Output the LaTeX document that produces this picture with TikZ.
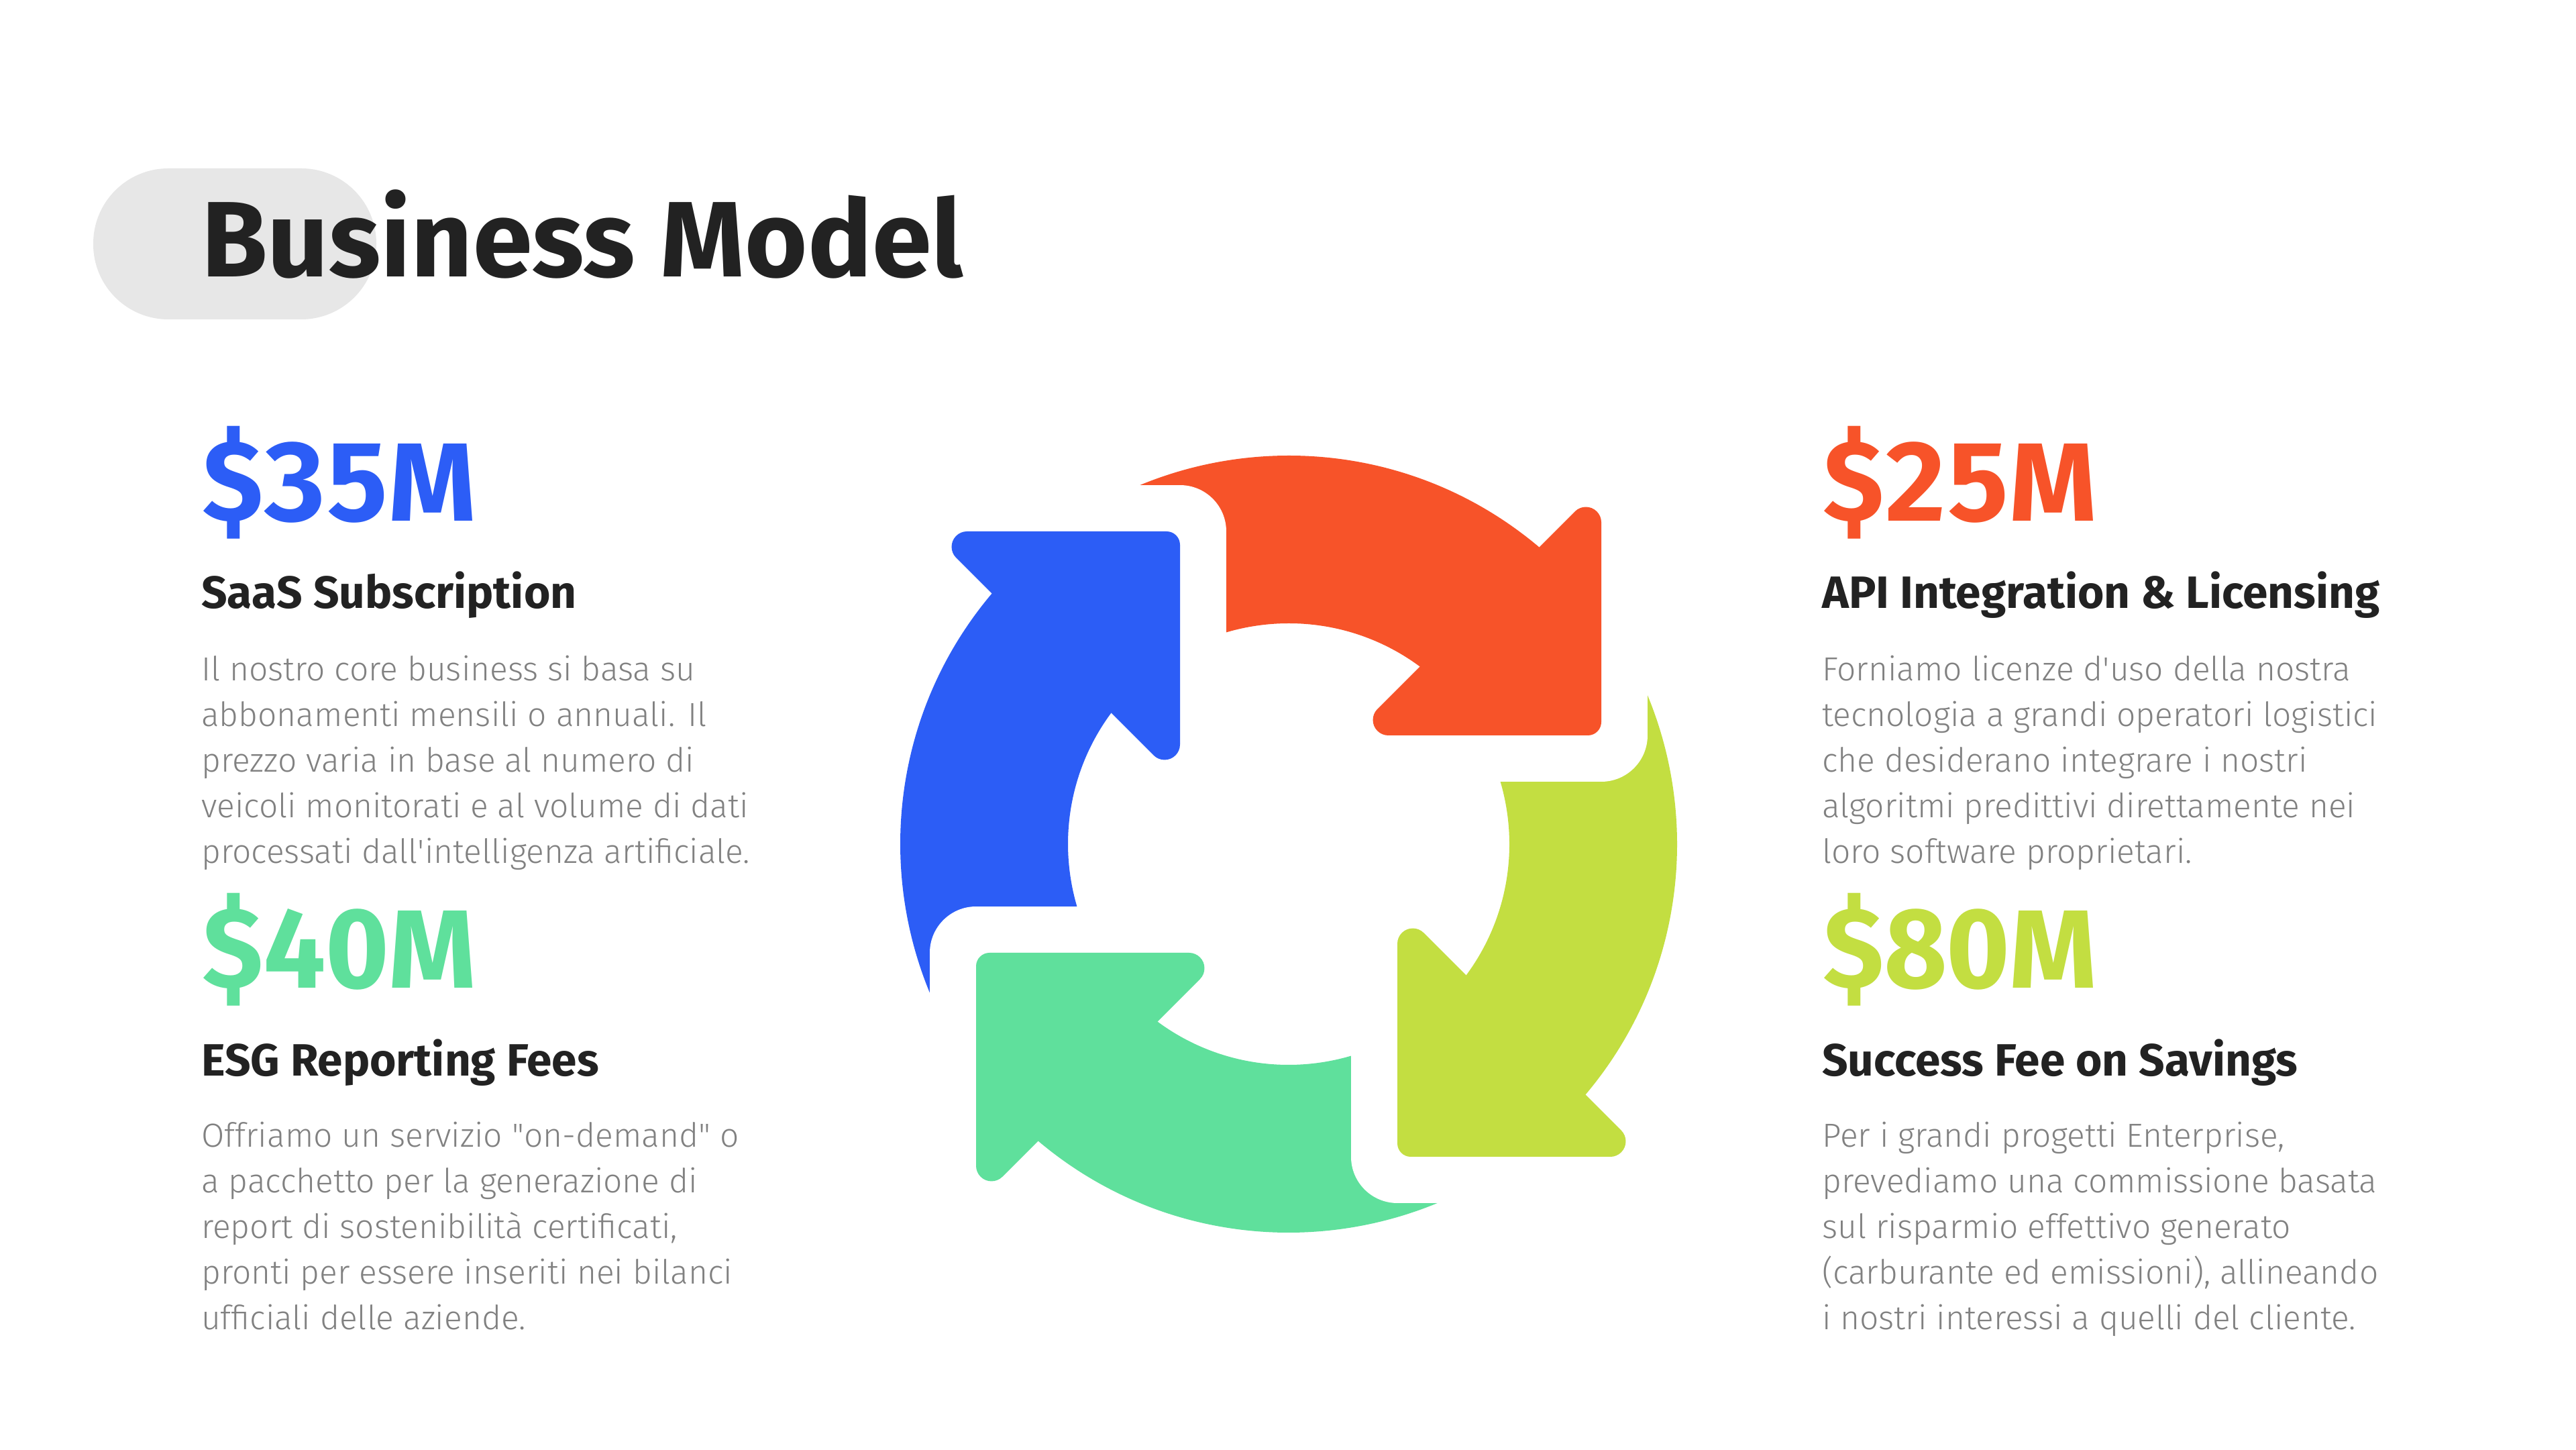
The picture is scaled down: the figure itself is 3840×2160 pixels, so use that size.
\documentclass[tikz,border=0pt]{standalone}
\usepackage{fontspec}
\setmainfont{Fira Sans}
\IfFontExistsTF{Fira Sans Light}{\newfontfamily\bodyfont{Fira Sans Light}}{\newfontfamily\bodyfont{Fira Sans}}
\definecolor{cblue}{HTML}{2C5DF6}
\definecolor{corange}{HTML}{F75329}
\definecolor{clime}{HTML}{C3DE41}
\definecolor{cgreen}{HTML}{5FE09C}
\definecolor{cdark}{HTML}{222222}
\definecolor{cbody}{HTML}{818181}
\definecolor{cpill}{HTML}{E7E7E7}
\newcommand{\apo}{\XeTeXglyph\XeTeXcharglyph"0027\relax}
\newcommand{\dq}{\XeTeXglyph\XeTeXcharglyph"0022\relax}
\tikzset{
  numtxt/.style={font=\fontsize{166}{166}\selectfont\bfseries\addfontfeatures{Numbers=Monospaced}, anchor=base west, inner sep=0pt},
  headtxt/.style={font=\fontsize{67.5}{67.5}\selectfont\bfseries, text=cdark, anchor=base west, inner sep=0pt},
  bodytxt/.style={font=\bodyfont\fontsize{49.7}{68}\selectfont, text=cbody, anchor=base west, inner sep=0pt},
  halo/.style={draw=white, line width=138pt, line cap=round, line join=round}
}
\begin{document}
\begin{tikzpicture}[x=1pt,y=1pt]
\useasboundingbox (0,0) rectangle (3840,2160);
\fill[white] (0,0) rectangle (3840,2160);
% title
\fill[cpill, rounded corners=112pt] (139,1684) rectangle (561,1909);
\node[font=\fontsize{160}{160}\selectfont\bfseries, text=cdark, anchor=base west, inner sep=0pt] (title) at (300,1747) {Business Model};
% ring
\begin{scope}[shift={(1921,902)}]
  \foreach \col/\phi in {cblue/0, corange/-90, clime/-180, cgreen/90}{
    \fill[\col] ({138.85+\phi}:579) arc[start angle={138.85+\phi}, end angle={228.85+\phi}, radius=579]
      -- ({231.79+\phi}:329) arc[start angle={231.79+\phi}, end angle={141.79+\phi}, radius=329] -- cycle;
  }
  \foreach \phi in {0,-90,-180,90}{
    \draw[halo, rotate=\phi] (-535,466) -- (-162,466) -- (-162,93);
  }
  \foreach \col/\phi in {cblue/0, corange/-90, clime/-180, cgreen/90}{
    \fill[\col, rotate=\phi] (-479.47,466) -- (-182,466) arc[start angle=90, end angle=0, radius=20]
      -- (-162,148.53) arc[start angle=0, end angle=-135, radius=23]
      -- (-495.73,426.74) arc[start angle=225, end angle=90, radius=23] -- cycle;
  }
\end{scope}
% left top
\node[numtxt, text=cblue] (n35) at (300,1383) {\$35M};
\node[headtxt] (h35) at (300,1253) {SaaS Subscription};
\foreach \t [count=\i] in {{Il nostro core business si basa su},{abbonamenti mensili o annuali. Il},{prezzo varia in base al numero di},{veicoli monitorati e al volume di dati},{processati dall\apo intelligenza artificiale.}}
  \node[bodytxt] (b35\i) at (300,{1145-68*(\i-1)}) {\t};
% left bottom
\node[numtxt, text=cgreen] (n40) at (300,687) {\$40M};
\node[headtxt] (h40) at (300,556) {ESG Reporting Fees};
\foreach \t [count=\i] in {{Offriamo un servizio \dq on-demand\dq{} o},{a pacchetto per la generazione di},{report di sostenibilità certificati,},{pronti per essere inseriti nei bilanci},{ufficiali delle aziende.}}
  \node[bodytxt] (b40\i) at (300,{450-68*(\i-1)}) {\t};
% right top
\node[numtxt, text=corange] (n25) at (2716,1383) {\$25M};
\node[headtxt] (h25) at (2716,1253) {API Integration \& Licensing};
\foreach \t [count=\i] in {{Forniamo licenze d\apo uso della nostra},{tecnologia a grandi operatori logistici},{che desiderano integrare i nostri},{algoritmi predittivi direttamente nei},{loro software proprietari.}}
  \node[bodytxt] (b25\i) at (2716,{1145-68*(\i-1)}) {\t};
% right bottom
\node[numtxt, text=clime] (n80) at (2716,687) {\$80M};
\node[headtxt] (h80) at (2716,556) {Success Fee on Savings};
\foreach \t [count=\i] in {{Per i grandi progetti Enterprise,},{prevediamo una commissione basata},{sul risparmio effettivo generato},{(carburante ed emissioni), allineando},{i nostri interessi a quelli del cliente.}}
  \node[bodytxt] (b80\i) at (2716,{450-68*(\i-1)}) {\t};
\end{tikzpicture}
\end{document}
